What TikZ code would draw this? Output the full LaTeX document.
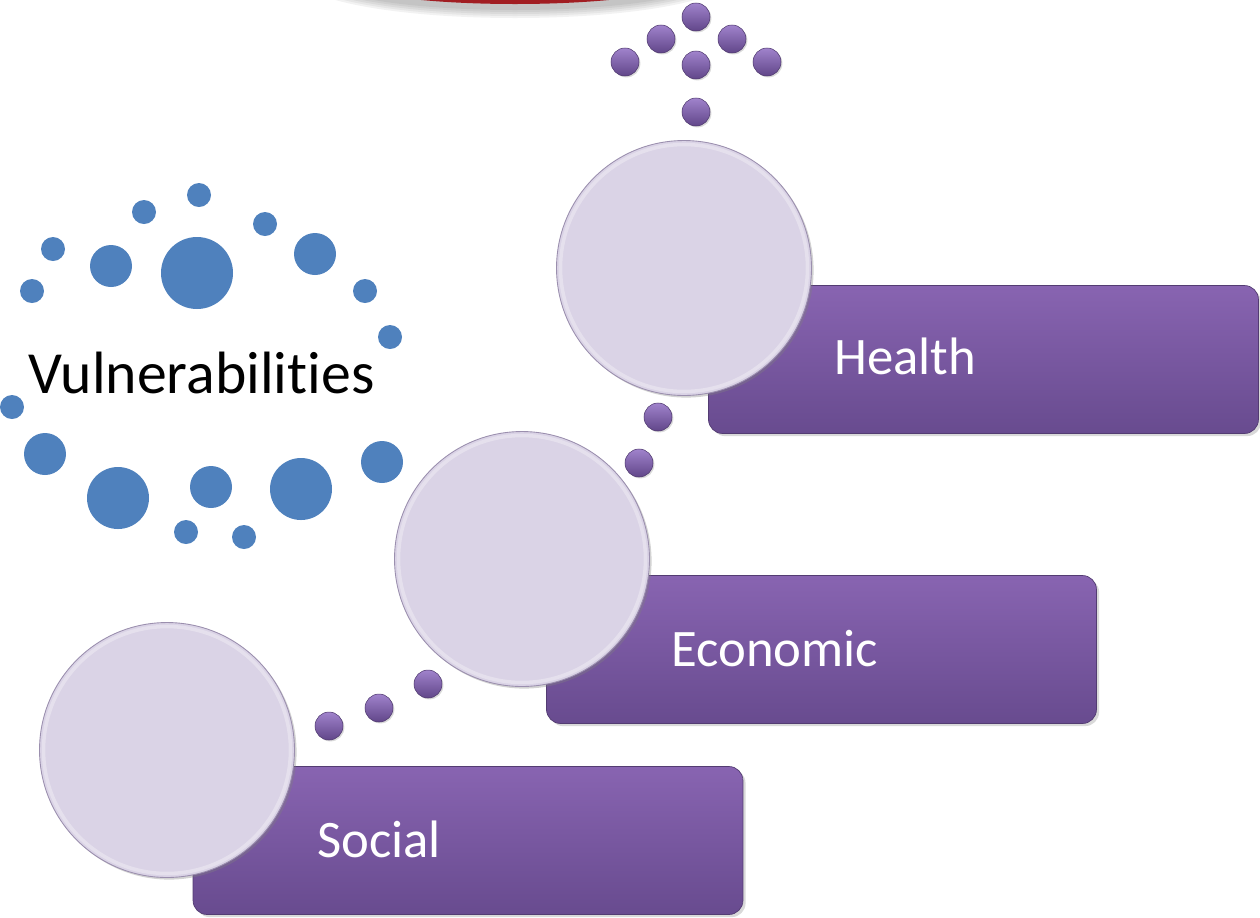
\documentclass[tikz,border=0pt]{standalone}
\usepackage{fontspec}
\setmainfont{Carlito}[Ligatures=NoCommon]
\usetikzlibrary{shadows, positioning}
\definecolor{lav}{HTML}{DAD3E6}
\definecolor{lavrim}{HTML}{9B8FAE}
\definecolor{boxtop}{HTML}{8864B1}
\definecolor{boxbot}{HTML}{684B8F}
\definecolor{dottop}{HTML}{A083CC}
\definecolor{dotbot}{HTML}{614689}
\definecolor{dotblue}{HTML}{4F81BD}
\definecolor{topred}{HTML}{A11D22}
\tikzset{%
    crc/.style={circle, fill=lav, draw=lavrim, line width=0.5pt, minimum size=5.1cm, inner sep=0pt,
        drop shadow={opacity=0.35, shadow xshift=1.2pt, shadow yshift=-1.2pt},
        path picture={\draw[white, opacity=0.3, line width=2pt]
            (path picture bounding box.center) circle (2.47cm);}},
    bx/.style={rectangle, rounded corners=8pt, top color=boxtop, bottom color=boxbot,
        draw=boxbot!80!black, line width=0.4pt, minimum width=11cm, minimum height=2.96cm,
        drop shadow={opacity=0.3, shadow xshift=1.5pt, shadow yshift=-1.5pt}},
    lbl/.style={text=white, font=\fontsize{30}{36}\selectfont, inner sep=0pt, anchor=base west},
    bd/.style={fill=dotblue},
    pd/.style={top color=dottop, bottom color=dotbot, draw=dotbot!80!black, line width=0.3pt,
        drop shadow={opacity=0.3, shadow xshift=0.8pt, shadow yshift=-0.8pt}},
}
\begin{document}
\begin{tikzpicture}[x=0.02cm, y=-0.02cm]
    \useasboundingbox (0,0) rectangle (1260,917);
    % red shape cut by the top edge
    \foreach \k in {1,...,5}
        \fill[black, opacity=0.05] (515,-22) ellipse ({190+5*\k} and {30+2*\k});
    \fill[topred] (515,-25) ellipse (185 and 29);
    % blue ring of dots
    \foreach \x/\y/\r in {199/195/12, 144/212/12, 265/224/12, 53/249/12, 111/266/21,
        197/273/36, 315/254/21, 32/291/12, 365/291/12, 390/337/12, 12/407/12, 45/454/21,
        118/498/31, 211/487/21, 301/489/31, 382/462/21, 186/532/12, 244/537/12}
        \fill[bd] (\x,\y) circle (\r);
    \node[font=\fontsize{34}{40}\selectfont, anchor=base west, inner sep=0pt] (vul) at (28,393) {Vulnerabilities};
    % boxes
    \node[bx] (hb) at (983.5,359.5) {};
    \node[bx] (eb) at (821.5,649.5) {};
    \node[bx] (sb) at (468,840.5) {};
    \node[lbl] (hl) at (834,374) {Health};
    \node[lbl] (el) at (671,666) {Economic};
    \node[lbl] (sl) at (317,857) {Social};
    % circles
    \node[crc] (hc) at (684,268) {};
    \node[crc] (ec) at (522,559) {};
    \node[crc] (sc) at (167,750) {};
    % purple dots
    \foreach \x/\y in {696/17, 661/39, 732/39, 625/62, 696/65, 767/62, 696/112,
        658/417, 639/463, 428/684, 379/708, 329/726}
        \shade[pd] (\x,\y) circle (14);
\end{tikzpicture}
\end{document}
